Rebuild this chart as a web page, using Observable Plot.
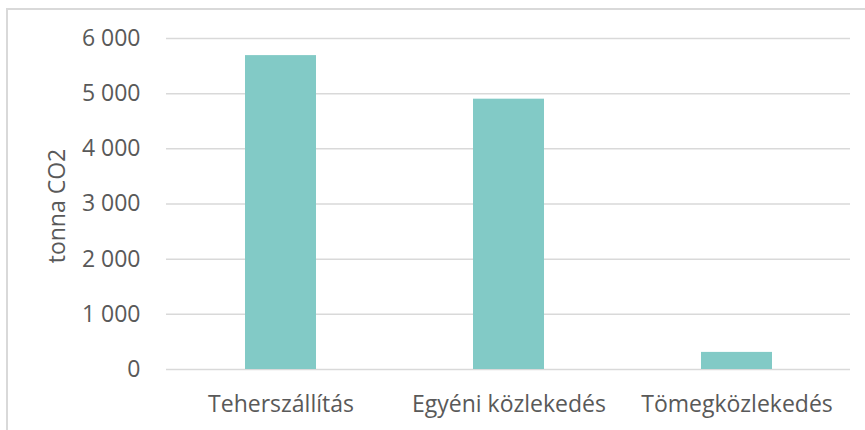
<!DOCTYPE html>
<html>
<head>
<meta charset="utf-8">
<script src="https://cdn.jsdelivr.net/npm/d3@7"></script>
<script src="https://cdn.jsdelivr.net/npm/@observablehq/plot@0.6"></script>
<style>
  html, body { margin: 0; padding: 0; background: #ffffff; }
  #wrap { position: relative; width: 865px; height: 430px; overflow: hidden; }
  #border { position: absolute; left: 6px; top: 8px; width: 900px; height: 500px;
            border-top: 2px solid #d9d9d9; border-left: 2px solid #d9d9d9; box-sizing: border-box; }
  #chart { position: absolute; left: 0; top: 0; }
</style>
</head>
<body>
<div id="wrap"><div id="border"></div><div id="chart"></div></div>
<script>
const categories = ["Teherszállítás", "Egyéni közlekedés", "Tömegközlekedés"];
const values = [5690, 4900, 310];
const yTicks = [0, 1000, 2000, 3000, 4000, 5000, 6000];
const yLabel = "tonna CO2";

const data = categories.map((c, i) => ({category: c, value: values[i]}));
const fmt = d3.formatLocale({decimal: ",", thousands: " ", grouping: [3], currency: ["", ""]}).format(",");

const chart = Plot.plot({
  width: 865,
  height: 430,
  marginLeft: 166,
  marginRight: 15,
  marginTop: 38,
  marginBottom: 61,
  style: {fontFamily: "'Open Sans', sans-serif", fontSize: "23px", color: "#595959", background: "transparent"},
  x: {domain: categories, paddingInner: 0.69, paddingOuter: 0.345, label: null},
  y: {domain: [0, 6000], label: null},
  marks: [
    Plot.gridY(yTicks, {stroke: "#d9d9d9", strokeOpacity: 1, strokeWidth: 1.5}),
    Plot.barY(data, {x: "category", y: "value", fill: "#82cac6"}),
    Plot.axisY(yTicks, {tickSize: 0, tickPadding: 26, tickFormat: fmt, label: null, fill: "#595959", fontSize: 23}),
    Plot.axisX({tickSize: 0, tickPadding: 26, label: null, fill: "#595959", fontSize: 23}),
    Plot.text([yLabel], {frameAnchor: "left", textAnchor: "middle", lineAnchor: "middle", dx: -109, dy: 2, rotate: -90, fill: "#595959", fontSize: 23})
  ]
});
document.getElementById("chart").appendChild(chart);
</script>
</body>
</html>
